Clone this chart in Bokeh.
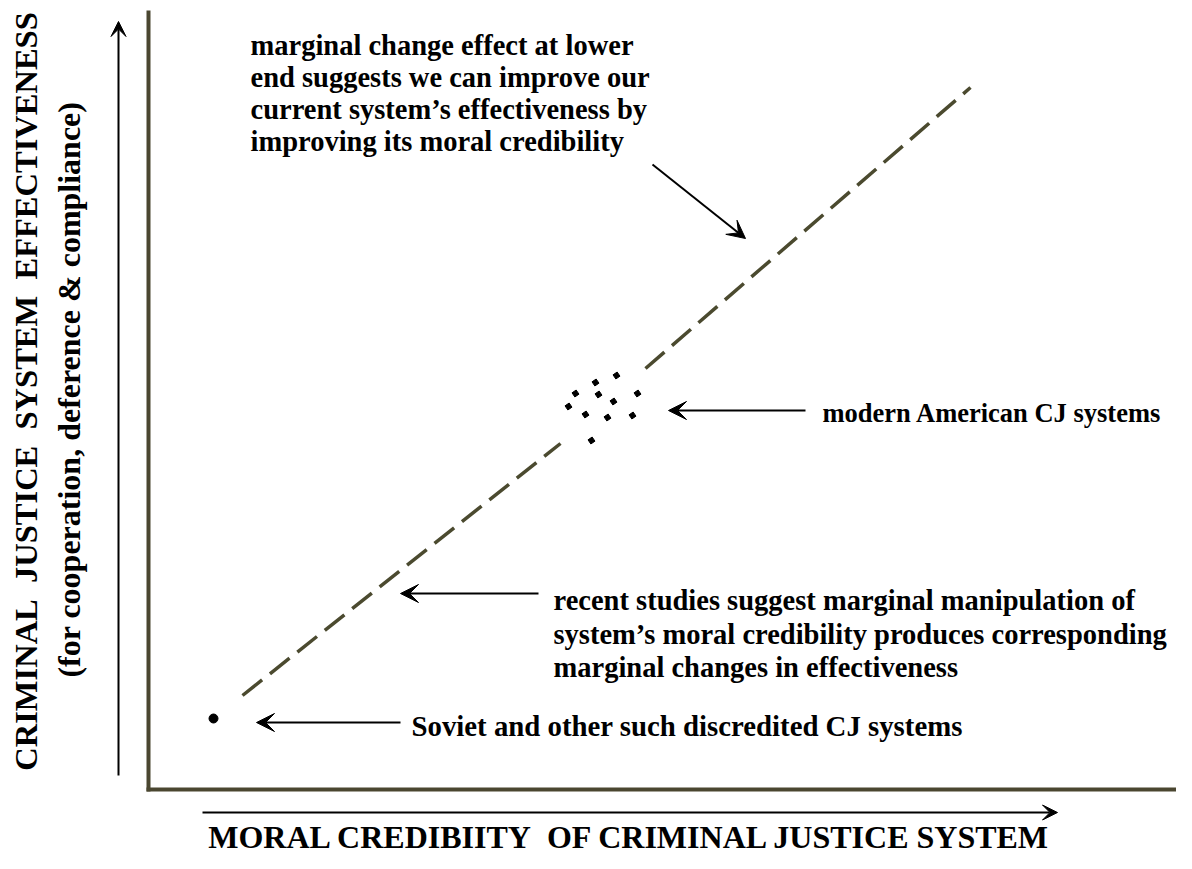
from bokeh.plotting import figure
from bokeh.models import Range1d, Arrow, VeeHead, ColumnDataSource
from bokeh.core.properties import value
from bokeh.embed import file_html
from bokeh.resources import INLINE
import math

# ---- data (coordinates; x to the right, y upward) ----
H = 869
# dashed trend line, two pieces (gap at the cluster)
trend_lo_x = [242, 560]
trend_lo_y = [H - 695, H - 443]
trend_hi_x = [645, 970]
trend_hi_y = [H - 368, H - 87]

# cluster of modern American CJ systems
cluster_x = [595, 616, 575, 598, 637, 613, 568, 585, 607, 632, 591]
cluster_y = [H - v for v in [382, 375, 393, 394, 393, 401, 406, 414, 417, 415, 440]]

# Soviet point
soviet_x = [213]
soviet_y = [H - 718]

# frame (axes)
frame_left_x = [148, 148]
frame_left_y = [H - 10, H - 791]
frame_bottom_x = [146, 1192]
frame_bottom_y = [H - 789, H - 789]

# axis arrows
axis_arrow_x0 = [118, 202]
axis_arrow_y0 = [H - 775, H - 812]
axis_arrow_x1 = [118, 1057]
axis_arrow_y1 = [H - 21, H - 812]

# annotation arrows
ann_arrow_x0 = [652, 805, 538, 400]
ann_arrow_y0 = [H - 164, H - 410, H - 593, H - 722]
ann_arrow_x1 = [745, 668, 400, 256]
ann_arrow_y1 = [H - 238, H - 410, H - 593, H - 722]

# annotation texts
ann_text = [
    "marginal change effect at lower",
    "end suggests we can improve our",
    "current system\u2019s effectiveness by",
    "improving its moral credibility",
    "modern American CJ systems",
    "recent studies suggest marginal manipulation of",
    "system\u2019s moral credibility produces corresponding",
    "marginal changes in effectiveness",
    "Soviet and other such discredited CJ systems",
]
ann_x = [250, 250, 250, 250, 822, 553, 553, 553, 411]
ann_y = [H - v for v in [45, 77, 109, 141, 412, 600, 634, 667, 725]]
ann_size = ["28.5px", "28.5px", "28.5px", "28.5px", "26.5px",
            "28.5px", "28.5px", "28.5px", "28.8px"]

x_label = "MORAL CREDIBIITY\u00a0 OF CRIMINAL JUSTICE SYSTEM"
y_label_1 = "CRIMINAL\u00a0 JUSTICE\u00a0 SYSTEM\u00a0 EFFECTIVENESS"
y_label_2 = "(for cooperation, deference & compliance)"

# ---- figure ----
p = figure(width=1176, height=853, output_backend="svg", toolbar_location=None,
           x_range=Range1d(0, 1176), y_range=Range1d(H - 853, H),
           min_border=0, background_fill_color="white", border_fill_color="white")
p.axis.visible = False
p.grid.visible = False
p.outline_line_color = None

FRAME = "#4a4630"
DASH = "#4b4a2f"

p.line(frame_left_x, frame_left_y, line_color=FRAME, line_width=4)
p.line(frame_bottom_x, frame_bottom_y, line_color=FRAME, line_width=4)

p.line(trend_lo_x, trend_lo_y, line_color=DASH, line_width=3.5, line_dash="25 10")
p.line(trend_hi_x, trend_hi_y, line_color=DASH, line_width=3.5, line_dash="25 10")

p.scatter(cluster_x, cluster_y, marker="square", size=5, angle=0.6,
          fill_color="black", line_color="black")
p.scatter(soviet_x, soviet_y, marker="circle", size=9,
          fill_color="black", line_color="black")

axis_src = ColumnDataSource(dict(x0=axis_arrow_x0, y0=axis_arrow_y0,
                                 x1=axis_arrow_x1, y1=axis_arrow_y1))
p.add_layout(Arrow(source=axis_src, x_start="x0", y_start="y0", x_end="x1", y_end="y1",
                   line_color="black", line_width=2,
                   end=VeeHead(size=15, fill_color="black", line_color="black", line_width=1)))

ann_src = ColumnDataSource(dict(x0=ann_arrow_x0, y0=ann_arrow_y0,
                                x1=ann_arrow_x1, y1=ann_arrow_y1))
p.add_layout(Arrow(source=ann_src, x_start="x0", y_start="y0", x_end="x1", y_end="y1",
                   line_color="black", line_width=2,
                   end=VeeHead(size=18, fill_color="black", line_color="black", line_width=1)))

FONT = value("Liberation Serif")
ann_src_t = ColumnDataSource(dict(x=ann_x, y=ann_y, t=ann_text, s=ann_size))
p.text("x", "y", text="t", source=ann_src_t, text_font=FONT, text_font_style="bold",
       text_font_size="s", text_align="left", text_baseline="middle", text_color="black")

p.text([630], [H - 836], text=[x_label], text_font=FONT, text_font_style="bold",
       text_font_size="32px", text_align="center", text_baseline="middle", text_color="black")

p.text([25], [H - 391], text=[y_label_1], text_font=FONT, text_font_style="bold",
       text_font_size="32.5px", text_align="center", text_baseline="middle",
       angle=math.pi / 2, text_color="black")
p.text([68], [H - 389], text=[y_label_2], text_font=FONT, text_font_style="bold",
       text_font_size="32px", text_align="center", text_baseline="middle",
       angle=math.pi / 2, text_color="black")

open("out.html", "w").write(file_html(p, INLINE))
